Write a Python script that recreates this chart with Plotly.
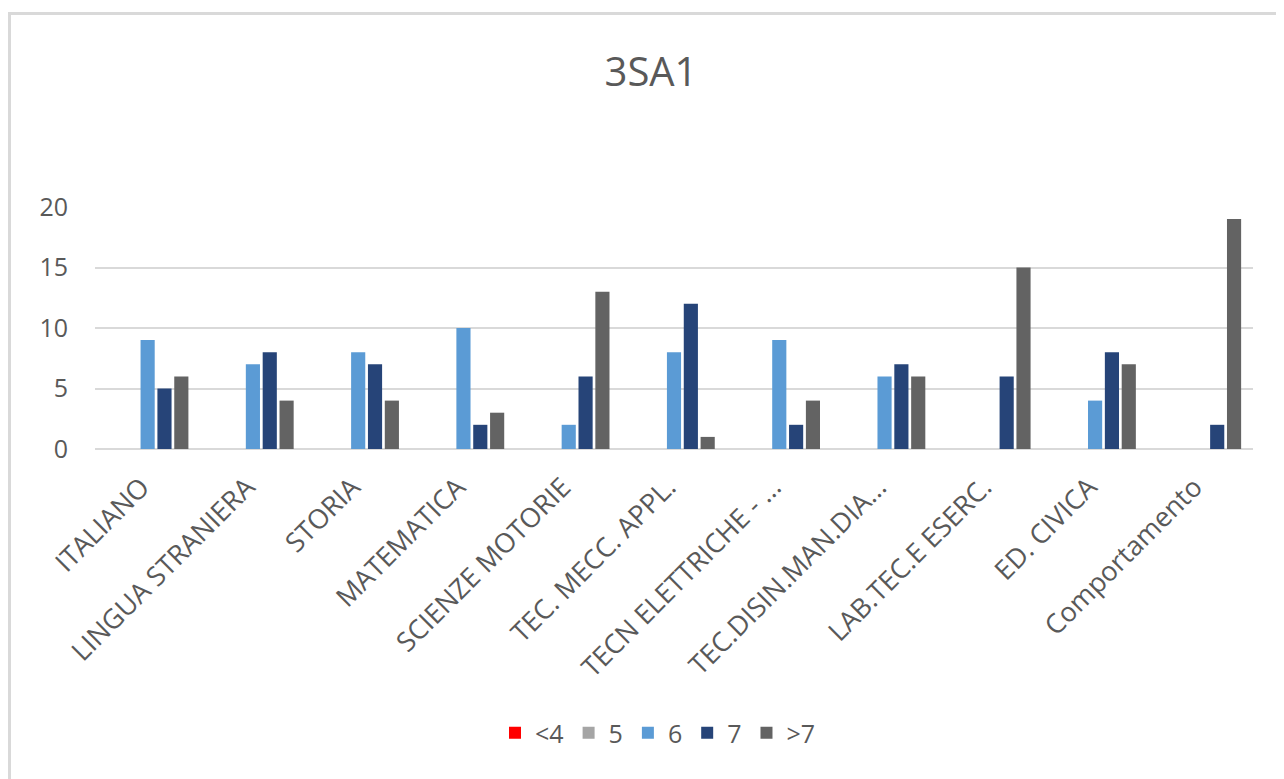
import plotly.graph_objects as go

categories = ["ITALIANO", "LINGUA STRANIERA", "STORIA", "MATEMATICA", "SCIENZE MOTORIE",
              "TEC. MECC. APPL.", "TECN ELETTRICHE - ...", "TEC.DISIN.MAN.DIA...",
              "LAB.TEC.E ESERC.", "ED. CIVICA", "Comportamento"]
series_names = ["<4", "5", "6", "7", ">7"]
v_lt4 = [0, 0, 0, 0, 0, 0, 0, 0, 0, 0, 0]
v_5 = [0, 0, 0, 0, 0, 0, 0, 0, 0, 0, 0]
v_6 = [9, 7, 8, 10, 2, 8, 9, 6, 0, 4, 0]
v_7 = [5, 8, 7, 2, 6, 12, 2, 7, 6, 8, 2]
v_gt7 = [6, 4, 4, 3, 13, 1, 4, 6, 15, 7, 19]
colors = ["#FF0000", "#A5A5A5", "#5B9BD5", "#264478", "#636363"]

OFF = 8  # page body margin
W, H = 1284 - OFF, 779 - OFF
L, T = 95 - OFF, 207 - OFF
R = W - (1253 - OFF)
B = H - (449 - OFF)
FONT = "Open Sans"
TXT = "#595959"

fig = go.Figure()
for name, vals, col in zip(series_names, [v_lt4, v_5, v_6, v_7, v_gt7], colors):
    fig.add_trace(go.Bar(name=name, x=categories, y=vals, marker=dict(color=col, line=dict(width=0))))

pw = W - L - R
ph = H - T - B
y_axis0 = H - B
fig.add_shape(type="rect", xref="paper", yref="paper",
              x0=(9.5 - OFF - L) / pw, x1=(W + 20 - L) / pw,
              y0=(y_axis0 - (H + 20)) / ph, y1=(y_axis0 - (13.5 - OFF)) / ph,
              line=dict(color="#D9D9D9", width=3), fillcolor="rgba(0,0,0,0)", layer="below")

fig.update_layout(
    width=W, height=H,
    margin=dict(l=L, r=R, t=T, b=B),
    paper_bgcolor="white", plot_bgcolor="white",
    font=dict(family=FONT, color=TXT, size=24),
    title=dict(text="3SA1", x=(651 - OFF) / W, xanchor="center", y=1 - (72 - OFF) / H, yanchor="middle",
               yref="container", font=dict(size=40, color=TXT, family=FONT)),
    barmode="group", bargap=0.2, bargroupgap=0.16,
    showlegend=True,
    legend=dict(orientation="h", xref="container", yref="container", x=(658 - OFF) / W, xanchor="center",
                y=1 - (733 - OFF) / H, yanchor="middle", font=dict(size=25, color=TXT), itemwidth=30,
                traceorder="normal"),
    xaxis=dict(tickangle=-45, showgrid=False, showline=False, ticks="",
               ticklabelstandoff=16, ticklabelshift=-6,
               tickfont=dict(size=27, color=TXT)),
    yaxis=dict(range=[0, 20], tickvals=[0, 5, 10, 15, 20], showgrid=True, gridcolor="#D9D9D9",
               gridwidth=2, zeroline=True, zerolinecolor="#D9D9D9", zerolinewidth=2,
               showline=False, ticks="", ticklabelstandoff=26,
               tickfont=dict(size=25, color=TXT)),
)

fig.write_html("out.html")
